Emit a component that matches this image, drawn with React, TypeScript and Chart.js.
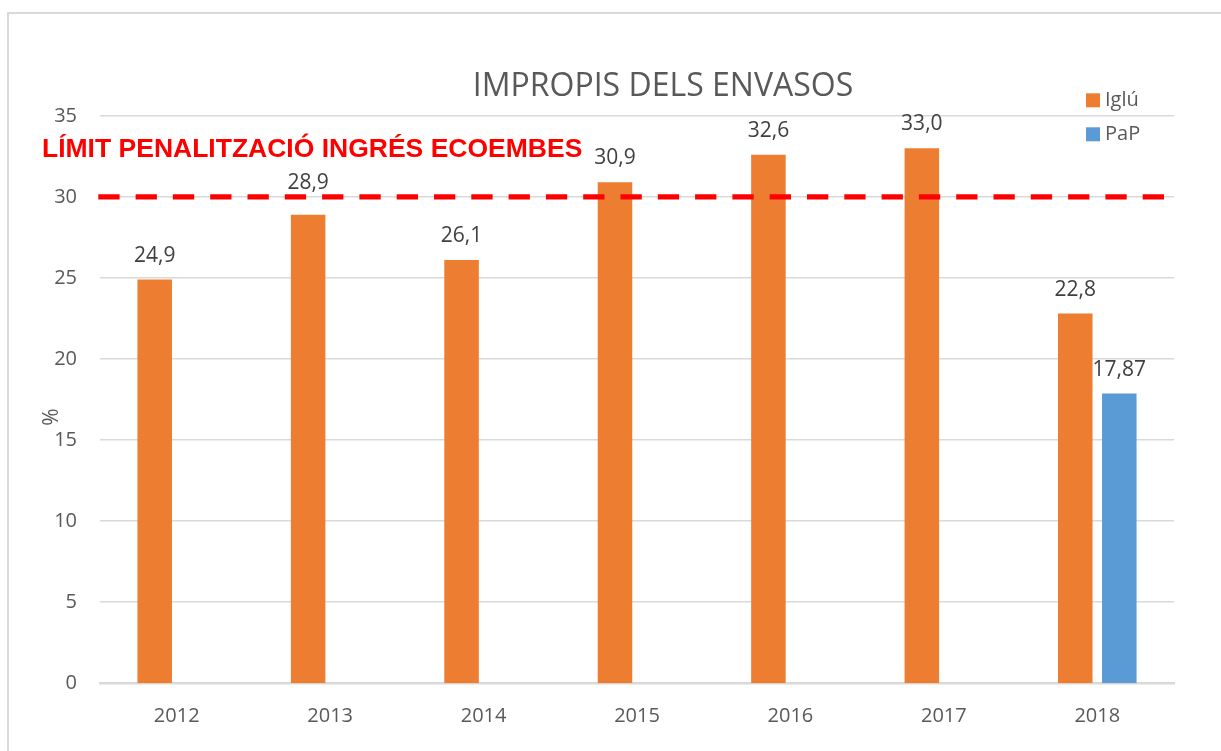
import React, { useEffect, useRef } from "react";
import { Chart, registerables } from "chart.js";

Chart.register(...registerables);

const categories = ["2012", "2013", "2014", "2015", "2016", "2017", "2018"];
const igluValues = [24.9, 28.9, 26.1, 30.9, 32.6, 33.0, 22.8];
const papValues: (number | null)[] = [null, null, null, null, null, null, 17.87];
const seriesNames = ["Iglú", "PaP"];
const seriesDecimals = [1, 2];
const yTicks = [0, 5, 10, 15, 20, 25, 30, 35];
const limitValue = 30;
const limitText = "LÍMIT PENALITZACIÓ INGRÉS ECOEMBES";
const titleText = "IMPROPIS DELS ENVASOS";
const yAxisTitle = "%";

const ORANGE = "#ED7D31";
const BLUE = "#5B9BD5";
const GRID = "#D9D9D9";
const TEXT = "#595959";
const LABEL = "#404040";
const FONT = "'Open Sans', sans-serif";

const fmt = (v: number, d: number) => v.toFixed(d).replace(".", ",");

const decorPlugin = {
  id: "decor",
  beforeDraw(chart: any) {
    const ctx = chart.ctx;
    ctx.save();
    ctx.fillStyle = "#ffffff";
    ctx.fillRect(0, 0, chart.width, chart.height);
    // outer frame (left + top)
    ctx.strokeStyle = GRID;
    ctx.lineWidth = 2;
    ctx.beginPath();
    ctx.moveTo(8, chart.height);
    ctx.lineTo(8, 13);
    ctx.lineTo(chart.width, 13);
    ctx.stroke();
    ctx.restore();
  },
  afterDatasetsDraw(chart: any) {
    const ctx = chart.ctx;
    const area = chart.chartArea;
    const y = chart.scales.y;
    ctx.save();

    // data labels
    ctx.font = `21px ${FONT}`;
    ctx.fillStyle = LABEL;
    ctx.textAlign = "center";
    ctx.textBaseline = "alphabetic";
    chart.data.datasets.forEach((ds: any, di: number) => {
      const meta = chart.getDatasetMeta(di);
      meta.data.forEach((el: any, i: number) => {
        const v = ds.data[i];
        if (v === null || v === undefined) return;
        const nearLimit = v < limitValue && v > limitValue - 2;
        const off = nearLimit ? 26 : 18;
        ctx.fillText(fmt(v, seriesDecimals[di]), el.x, el.y - off);
      });
    });

    // limit line
    const ly = y.getPixelForValue(limitValue);
    ctx.strokeStyle = "#FF0000";
    ctx.lineWidth = 5.3;
    ctx.setLineDash([21.3, 16]);
    ctx.beginPath();
    ctx.moveTo(area.left - 1.7, ly);
    ctx.lineTo(area.right - 9, ly);
    ctx.stroke();
    ctx.setLineDash([]);

    // limit text
    ctx.font = `bold 26.5px 'Liberation Sans', Arial, sans-serif`;
    ctx.fillStyle = "#FF0000";
    ctx.textAlign = "left";
    ctx.fillText(limitText, 42, 157);

    // title
    ctx.font = `32px ${FONT}`;
    ctx.fillStyle = TEXT;
    ctx.textAlign = "center";
    ctx.fillText(titleText, 663, 96);

    // y axis title
    ctx.save();
    ctx.translate(52, 417);
    ctx.rotate(-Math.PI / 2);
    ctx.font = `21px ${FONT}`;
    ctx.textBaseline = "middle";
    ctx.fillText(yAxisTitle, 0, 0);
    ctx.restore();

    // legend
    const colors = [ORANGE, BLUE];
    ctx.font = `20px ${FONT}`;
    ctx.textAlign = "left";
    ctx.textBaseline = "middle";
    seriesNames.forEach((n, i) => {
      const top = 93.3 + i * 34;
      ctx.fillStyle = colors[i];
      ctx.fillRect(1086, top, 14, 14);
      ctx.fillStyle = TEXT;
      ctx.fillText(n, 1105, top + 7);
    });

    ctx.restore();
  },
};

export default function App() {
  const ref = useRef<HTMLCanvasElement | null>(null);

  useEffect(() => {
    if (!ref.current) return;
    const chart = new Chart(ref.current, {
      type: "bar",
      data: {
        labels: categories,
        datasets: [
          {
            label: seriesNames[0],
            data: igluValues,
            backgroundColor: ORANGE,
            categoryPercentage: 0.574,
            barPercentage: 0.784,
          },
          {
            label: seriesNames[1],
            data: papValues,
            backgroundColor: BLUE,
            categoryPercentage: 0.574,
            barPercentage: 0.784,
          },
        ],
      },
      options: {
        responsive: false,
        animation: false,
        devicePixelRatio: 1,
        layout: { padding: { left: 40, top: 115.8, right: 47, bottom: 27.7 } },
        plugins: {
          legend: { display: false },
          title: { display: false },
          tooltip: { enabled: false },
        },
        scales: {
          x: {
            grid: { display: false, drawTicks: false },
            border: { display: true, color: GRID, width: 2.5 },
            ticks: { color: TEXT, font: { family: "'Open Sans'", size: 20 }, padding: 21 },
            afterFit: (s: any) => {
              s.height = 40;
            },
          },
          y: {
            min: 0,
            max: 35,
            afterBuildTicks: (s: any) => {
              s.ticks = yTicks.map((v) => ({ value: v }));
            },
            grid: {
              color: GRID,
              lineWidth: (c: any) => (c.tick && c.tick.value === 0 ? 0 : 1.5),
              drawTicks: false,
            },
            border: { display: false },
            ticks: { color: TEXT, font: { family: "'Open Sans'", size: 20 }, padding: 23 },
            afterFit: (s: any) => {
              s.width = 60;
            },
          },
        },
      },
      plugins: [decorPlugin],
    });
    return () => chart.destroy();
  }, []);

  return (
    <div style={{ position: "absolute", left: 0, top: 0, width: 1221, height: 751 }}>
      <canvas ref={ref} width={1221} height={751} style={{ width: 1221, height: 751, display: "block" }} />
    </div>
  );
}
